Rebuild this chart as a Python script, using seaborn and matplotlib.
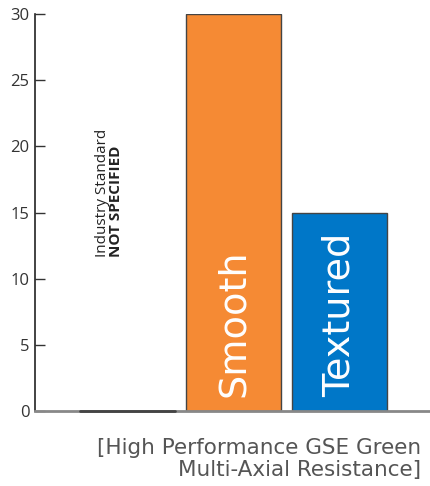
import matplotlib
matplotlib.use("Agg")
import matplotlib.pyplot as plt
import pandas as pd
import seaborn as sns

categories = ["Industry Standard", "Smooth", "Textured"]
values = [0, 30, 15]
bar_colors = ["#FFFFFF", "#F58A34", "#0077C8"]
bar_labels = ["", "Smooth", "Textured"]
yticks = [0, 5, 10, 15, 20, 25, 30]

df = pd.DataFrame({"category": categories, "value": values})

sns.set_style("white")
plt.rcParams["font.family"] = ["Open Sans", "DejaVu Sans"]

fig = plt.figure(figsize=(4.31, 4.86), dpi=100)
ax = fig.add_axes([35 / 431, 75 / 486, 396 / 431, 397 / 486])

sns.barplot(data=df, x="category", y="value", hue="category", palette=bar_colors,
            saturation=1, width=0.9, edgecolor="#444444", linewidth=1,
            legend=False, ax=ax)

ax.set_xlim(-0.873, 2.863)
ax.set_ylim(0, 30)
ax.set_yticks(yticks)
ax.set_xticks([])
ax.set_xlabel("")
ax.set_ylabel("")
ax.tick_params(axis="y", direction="in", length=7, width=1, color="#333333",
               labelsize=12, labelcolor="#333333", left=True, pad=4)
for side in ["top", "right"]:
    ax.spines[side].set_visible(False)
ax.spines["left"].set_color("#222222")
ax.spines["left"].set_linewidth(1.2)
ax.spines["bottom"].set_color("#888888")
ax.spines["bottom"].set_linewidth(2)
ax.plot([-0.45, 0.45], [0, 0], color="#444444", lw=2, clip_on=False, zorder=5)

for i, lab in enumerate(bar_labels):
    if lab:
        ax.text(i, 1.05, lab, rotation=90, ha="center", va="bottom", color="white",
                fontsize=27.5, family="DejaVu Sans")

ax.text(-0.24, 11.6, "Industry Standard", rotation=90, ha="center", va="bottom",
        fontsize=11, color="#222222")
ax.text(-0.105, 11.6, "NOT SPECIFIED", rotation=90, ha="center", va="bottom",
        fontsize=11, fontweight="bold", color="#222222")

fig.text(421 / 431, 1 - 459 / 486, "[High Performance GSE Green\nMulti-Axial Resistance]",
         ha="right", va="center", fontsize=15.5, color="#555555", linespacing=1.1,
         family="DejaVu Sans")

fig.savefig("out.png", dpi=100)
